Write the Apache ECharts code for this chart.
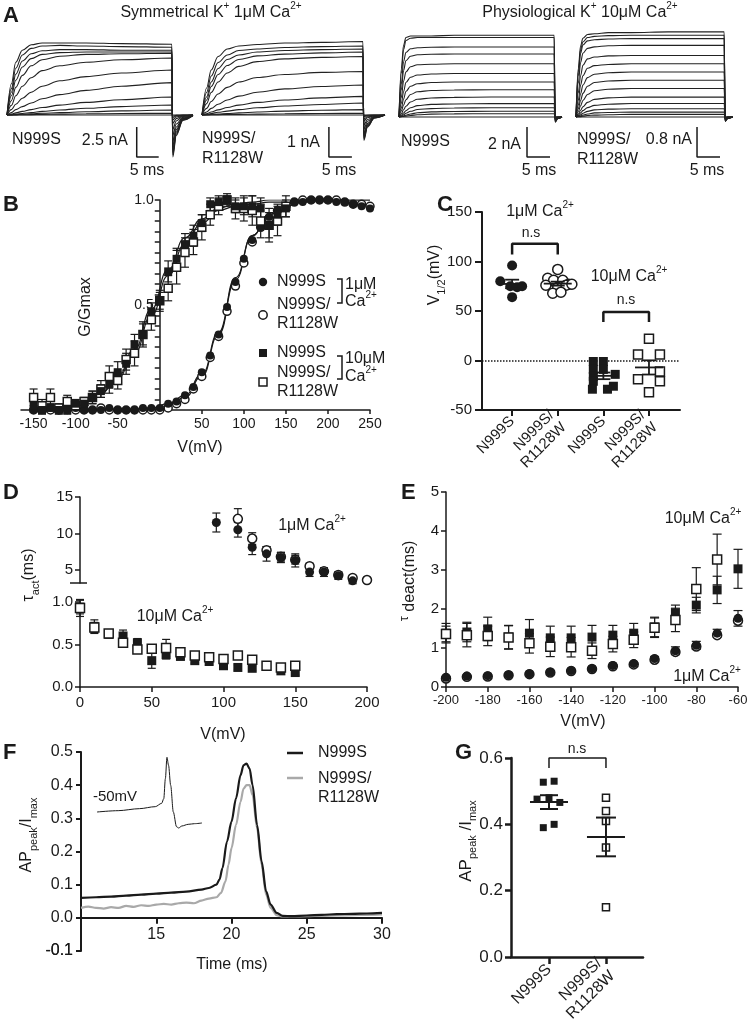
<!DOCTYPE html>
<html><head><meta charset="utf-8">
<script src="https://cdn.jsdelivr.net/npm/echarts@6/dist/echarts.min.js"></script>
<style>html,body{margin:0;padding:0;background:#fff}#c{width:748px;height:1031px}</style>
</head><body><div id="c"></div>
<script>
// ================= DATA =================
// Panel A: current traces (time in ms, current in nA)
const aT1 = [0,1,2,3.5,5.5,8,12,18,26,37.5,37.7,38.5,40,42.3];
const aTr1 = [
[0,2.6,4.4,5.4,5.85,6.0,6.0,6.0,5.95,5.9,-3.5,-1.7,-0.45,-0.05],
[0,2.2,3.9,5.0,5.55,5.75,5.8,5.75,5.7,5.65,-3.3,-1.6,-0.4,-0.05],
[0,1.9,3.4,4.5,5.1,5.35,5.45,5.45,5.4,5.4,-3.1,-1.5,-0.4,-0.05],
[0,1.6,2.9,4.0,4.7,5.05,5.2,5.25,5.25,5.25,-2.9,-1.35,-0.35,-0.05],
[0,1.2,2.3,3.3,4.1,4.6,4.9,5.05,5.1,5.15,-2.6,-1.2,-0.3,-0.04],
[0,0.8,1.6,2.4,3.1,3.7,4.1,4.4,4.6,4.75,-2.2,-1.0,-0.25,-0.03],
[0,0.45,0.9,1.4,1.9,2.4,2.85,3.2,3.5,3.75,-1.7,-0.75,-0.2,-0.02],
[0,0.2,0.45,0.7,1.0,1.35,1.7,2.05,2.4,2.7,-1.2,-0.5,-0.12,-0.02],
[0,0.08,0.18,0.3,0.45,0.62,0.82,1.05,1.27,1.5,-0.7,-0.3,-0.08,-0.01],
[0,0.03,0.07,0.13,0.2,0.3,0.42,0.56,0.7,0.83,-0.4,-0.17,-0.05,0],
[0,0.01,0.03,0.06,0.1,0.14,0.2,0.27,0.34,0.42,-0.2,-0.08,-0.02,0],
[0,0,0.01,0.02,0.03,0.05,0.07,0.1,0.12,0.15,-0.08,-0.03,-0.01,0],
[0,0,0,0,0,0,0,0,0,0,0,0,0,0]];
const aT2 = [0,1,2,3.5,5.5,8,12,18,26,35,35.2,36,37.5,39.8];
const aTr2 = [
[0,0.9,1.5,1.95,2.2,2.3,2.35,2.4,2.42,2.45,-0.85,-0.4,-0.1,0],
[0,0.75,1.3,1.75,2.0,2.15,2.2,2.25,2.28,2.3,-0.8,-0.37,-0.1,0],
[0,0.6,1.1,1.55,1.85,2.0,2.1,2.15,2.18,2.2,-0.75,-0.35,-0.09,0],
[0,0.5,0.95,1.35,1.65,1.85,1.97,2.03,2.07,2.1,-0.7,-0.32,-0.08,0],
[0,0.38,0.75,1.1,1.4,1.62,1.78,1.87,1.92,1.95,-0.62,-0.28,-0.07,0],
[0,0.22,0.45,0.7,0.92,1.1,1.25,1.35,1.42,1.45,-0.47,-0.21,-0.05,0],
[0,0.1,0.22,0.36,0.5,0.63,0.76,0.87,0.95,1.0,-0.33,-0.15,-0.04,0],
[0,0.04,0.1,0.17,0.25,0.33,0.42,0.5,0.57,0.62,-0.2,-0.09,-0.02,0],
[0,0.02,0.05,0.09,0.13,0.18,0.24,0.3,0.35,0.4,-0.13,-0.06,-0.02,0],
[0,0.01,0.02,0.03,0.05,0.07,0.1,0.13,0.16,0.18,-0.06,-0.03,-0.01,0],
[0,0,0.01,0.01,0.02,0.02,0.03,0.04,0.05,0.06,-0.02,-0.01,0,0],
[0,0,0,0,0,0,0,0,0,0,0,0,0,0]];
const aT3 = [0,0.5,1,1.5,2.5,4,7,12,20,33.7,33.9,34.5,35.4];
const aTr3 = [
[0,3.2,4.8,5.3,5.4,5.4,5.4,5.45,5.45,5.45,-0.35,-0.1,0],
[0,2.9,4.5,5.1,5.25,5.3,5.3,5.3,5.3,5.3,-0.33,-0.1,0],
[0,2.2,3.7,4.3,4.55,4.62,4.65,4.67,4.67,4.67,-0.3,-0.09,0],
[0,1.8,3.1,3.75,4.05,4.15,4.18,4.2,4.2,4.2,-0.27,-0.08,0],
[0,1.3,2.4,3.0,3.35,3.48,3.52,3.55,3.55,3.55,-0.23,-0.07,0],
[0,0.9,1.7,2.3,2.65,2.8,2.87,2.9,2.9,2.9,-0.19,-0.06,0],
[0,0.6,1.2,1.7,2.05,2.22,2.3,2.33,2.33,2.33,-0.15,-0.05,0],
[0,0.4,0.8,1.15,1.5,1.68,1.77,1.8,1.82,1.82,-0.12,-0.04,0],
[0,0.22,0.48,0.72,1.0,1.18,1.27,1.31,1.33,1.33,-0.09,-0.03,0],
[0,0.12,0.27,0.42,0.62,0.76,0.84,0.87,0.89,0.89,-0.06,-0.02,0],
[0,0.07,0.15,0.25,0.38,0.5,0.56,0.6,0.62,0.62,-0.04,-0.01,0],
[0,0.03,0.07,0.12,0.2,0.28,0.34,0.37,0.38,0.38,-0.03,-0.01,0],
[0,0.02,0.04,0.06,0.1,0.15,0.19,0.21,0.22,0.22,-0.02,0,0],
[0,0,0,0,0,0,0,0,0,0,0,0,0]];
const aT4 = [0,0.5,1,1.5,2.5,4,7,12,20,32.2,32.4,33,34];
const aTr4 = [
[0,1.3,1.9,2.1,2.2,2.22,2.25,2.25,2.27,2.27,-0.12,-0.04,0],
[0,1.2,1.8,2.0,2.12,2.15,2.17,2.18,2.18,2.18,-0.11,-0.04,0],
[0,1.1,1.7,1.92,2.03,2.06,2.08,2.09,2.09,2.09,-0.1,-0.03,0],
[0,0.9,1.45,1.7,1.83,1.87,1.9,1.91,1.91,1.91,-0.1,-0.03,0],
[0,0.65,1.1,1.38,1.55,1.6,1.63,1.64,1.64,1.64,-0.09,-0.03,0],
[0,0.45,0.85,1.1,1.3,1.37,1.4,1.42,1.42,1.42,-0.08,-0.02,0],
[0,0.32,0.62,0.85,1.05,1.14,1.18,1.2,1.2,1.2,-0.07,-0.02,0],
[0,0.22,0.44,0.63,0.82,0.92,0.96,0.98,0.98,0.98,-0.06,-0.02,0],
[0,0.14,0.3,0.44,0.6,0.7,0.74,0.76,0.76,0.76,-0.05,-0.01,0],
[0,0.08,0.18,0.27,0.39,0.47,0.51,0.53,0.53,0.53,-0.04,-0.01,0],
[0,0.05,0.11,0.17,0.25,0.31,0.34,0.36,0.36,0.36,-0.03,-0.01,0],
[0,0.03,0.06,0.1,0.15,0.19,0.21,0.22,0.22,0.22,-0.02,0,0],
[0,0.02,0.03,0.05,0.08,0.11,0.12,0.13,0.13,0.13,-0.01,0,0],
[0,0.01,0.01,0.02,0.04,0.05,0.06,0.07,0.07,0.07,-0.01,0,0],
[0,0,0,0,0,0,0,0,0,0,0,0,0]];
// scale bars: [time, current, 5 ms, nA]
const aScale1 = [29.5,-3.5,5,2.5];
const aScale2 = [27.6,-1.4,5,1];
const aScale3 = [27.8,-2.67,5,2];
const aScale4 = [26.3,-1.07,5,0.8];

// Panel B: G/Gmax vs V
const bV1 = [-150,-140,-130,-120,-110,-100,-90,-80,-70,-60,-50,-40,-30,-20,-10,0,10,20,30,40,50,60,70,80,90,100,110,120,130,140,150,160,170,180,190,200,210,220,230,240,250];
const bG1N = [0,0,0.01,0,0,0.01,0,0,0,0.01,0,0,0,0.01,0.01,0.01,0.03,0.04,0.07,0.11,0.18,0.26,0.36,0.49,0.61,0.72,0.81,0.87,0.92,0.95,0.97,0.99,0.99,1.0,1.0,1.0,0.99,0.99,0.98,0.97,0.96];
const bG1R = [0,0.01,0,0,0.01,0,0,0,0.01,0,0,0,0,0,0,0,0.01,0.03,0.05,0.10,0.16,0.25,0.35,0.47,0.59,0.70,0.80,0.87,0.91,0.95,0.97,0.99,1.0,1.0,1.0,1.0,1.0,0.99,0.98,0.98,0.97];
const bV10 = [-150,-140,-130,-120,-110,-100,-90,-80,-70,-60,-50,-40,-30,-20,-10,0,10,20,30,40,50,60,70,80,90,100,110,120,130,140,150];
const bG10N = [0.02,0.0,0.01,0.0,0.0,0.03,0.03,0.06,0.09,0.12,0.18,0.22,0.31,0.36,0.47,0.52,0.66,0.72,0.79,0.83,0.89,0.98,0.99,1.0,0.97,0.97,0.97,0.96,0.88,0.93,0.96];
const bE10N = [0.03,0.02,0.02,0.02,0.02,0.02,0.02,0.03,0.03,0.04,0.05,0.05,0.05,0.05,0.04,0.04,0.05,0.05,0.05,0.05,0.04,0.03,0.03,0.02,0.03,0.04,0.05,0.05,0.06,0.05,0.04];
const bG10R = [0.06,0.02,0.06,0.01,0.04,0.02,0.04,0.06,0.10,0.16,0.14,0.24,0.27,0.36,0.43,0.52,0.58,0.68,0.75,0.80,0.87,0.93,0.97,1.0,0.96,0.96,0.95,0.90,0.88,0.90,0.97];
const bE10R = [0.04,0.03,0.04,0.02,0.03,0.02,0.02,0.03,0.04,0.05,0.04,0.05,0.06,0.06,0.05,0.05,0.06,0.08,0.07,0.06,0.06,0.05,0.04,0.03,0.05,0.06,0.07,0.08,0.08,0.07,0.05];
const bFitV1 = [-150,-130,-110,-90,-70,-50,-30,-10,10,30,50,70,90,110,130,150,170,190,210,230,250];
const bFit1N = [0,0,0,0,0,0,0,0.01,0.03,0.07,0.17,0.37,0.63,0.83,0.93,0.97,0.99,1.0,1.0,1.0,1.0];
const bFit1R = [0,0,0,0,0,0,0,0.01,0.02,0.06,0.16,0.36,0.62,0.83,0.93,0.97,0.99,1.0,1.0,1.0,1.0];
const bFitV10 = [-150,-130,-110,-90,-70,-50,-30,-10,10,30,50,70,90,110,130,150];
const bFit10N = [0.0,0.01,0.02,0.04,0.08,0.16,0.29,0.48,0.67,0.82,0.91,0.96,0.98,0.99,1.0,1.0];
const bFit10R = [0.01,0.01,0.02,0.04,0.08,0.15,0.27,0.45,0.64,0.79,0.89,0.95,0.97,0.98,0.99,0.99];
const bXTicks = [-150,-100,-50,50,100,150,200,250];
const bYTicks = [0.05,0.1,0.15,0.2,0.25,0.3,0.35,0.4,0.45,0.5,0.55,0.6,0.65,0.7,0.75,0.8,0.85,0.9,0.95,1.0];
const bYLabels = [0.5,1.0];

// Panel C: V1/2 (mV)
const cLabels = ['N999S','N999S/\nR1128W','N999S','N999S/\nR1128W'];
const cN1 = [96,80,75,74,75,64];           const cN1j = [0,-0.26,-0.04,0.11,0.22,0];
const cR1 = [92,83,81,81,77,76,74,76,68,69,77]; const cR1j = [0,-0.22,-0.09,0.11,0.24,-0.26,0,0.18,-0.11,0.07,0.31];
const cN10 = [-1,-1,-9,-9,-16,-14,-21,-26,-29,-29]; const cN10j = [-0.22,0,-0.22,0,-0.22,0.26,-0.22,0.22,-0.24,0.09];
const cR10 = [22,6,6,-11,-19,-21,-32];       const cR10j = [0,-0.24,0.24,0.24,-0.24,0.24,0];

// Panel D: tau act
const dV1N = [95,110,120,130,140,150,160,170,180,190];
const dT1N = [11.5,10.5,8.1,7.2,6.7,6.3,4.7,4.7,4.2,3.5];
const dE1N = [1.3,1.0,1.0,1.0,0.7,0.9,0.6,0.6,0.5,0.4];
const dV1R = [110,120,130,140,150,160,170,180,190,200];
const dT1R = [12.0,9.3,7.7,6.8,6.4,5.5,4.8,4.3,3.9,3.6];
const dE1R = [1.4,0.8,0.5,0.6,0.6,0.4,0.4,0.4,0.3,0.2];
const dV10 = [0,10,20,30,40,50,60,70,80,90,100,110,120,130,140,150];
const dT10N = [0.94,0.71,0.62,0.60,0.52,0.31,0.38,0.36,0.31,0.30,0.25,0.23,0.22,0.25,0.19,0.17];
const dE10N = [0.08,0.08,0.04,0.07,0.05,0.09,0.05,0.04,0.03,0.03,0.03,0.03,0.03,0.03,0.03,0.03];
const dT10R = [0.93,0.70,0.63,0.52,0.44,0.45,0.46,0.41,0.37,0.35,0.33,0.37,0.32,0.25,0.23,0.25];
const dE10R = [0.10,0.06,0.03,0.03,0.04,0.04,0.10,0.04,0.03,0.03,0.03,0.04,0.03,0.03,0.03,0.03];
const dUpperTicks = [5,10,15];

// Panel E: tau deact
const eV = [-200,-190,-180,-170,-160,-150,-140,-130,-120,-110,-100,-90,-80,-70,-60];
const eSqN = [1.38,1.41,1.49,1.28,1.38,1.26,1.26,1.28,1.33,1.38,1.54,1.90,2.10,2.49,3.03];
const eSqNe = [0.25,0.25,0.3,0.3,0.35,0.3,0.3,0.3,0.25,0.25,0.25,0.2,0.2,0.35,0.5];
const eVR = [-200,-190,-180,-170,-160,-150,-140,-130,-120,-110,-100,-90,-80,-70];
const eSqR = [1.36,1.33,1.31,1.27,1.12,1.03,1.02,0.93,1.10,1.21,1.52,1.72,2.51,3.27];
const eSqRe = [0.2,0.3,0.25,0.3,0.25,0.25,0.25,0.2,0.2,0.2,0.25,0.3,0.55,0.65];
const eCiN = [0.25,0.28,0.29,0.31,0.34,0.38,0.42,0.47,0.55,0.60,0.73,0.93,1.07,1.38,1.76];
const eCiNe = [0.02,0.02,0.02,0.02,0.02,0.02,0.02,0.02,0.02,0.02,0.05,0.1,0.1,0.1,0.2];
const eCiR = [0.22,0.26,0.27,0.30,0.33,0.37,0.41,0.46,0.53,0.58,0.70,0.90,1.04,1.33,1.70];

// Panel F: AP clamp traces
const fTN = [10,11,12,13,14,15,16,17,18,18.5,19.0,19.2,19.4,19.7,20.0,20.3,20.6,20.8,21.0,21.2,21.4,21.7,22.0,22.3,22.6,23.0,23.4,24,25,26,27,28,29,30];
const fVN = [0.060,0.062,0.064,0.067,0.070,0.073,0.076,0.079,0.085,0.090,0.100,0.115,0.15,0.23,0.29,0.36,0.43,0.46,0.465,0.45,0.40,0.28,0.17,0.08,0.04,0.015,0.006,0.005,0.007,0.009,0.011,0.012,0.013,0.015];
const fTR = [10,10.5,11,11.5,12,12.5,13,13.5,14,14.5,15,15.5,16,16.5,17,17.5,18,18.5,19,19.3,19.6,19.8,20.0,20.3,20.6,20.8,21.0,21.2,21.4,21.7,22.0,22.3,22.6,23.0,23.4,24,25,26,27,28,29,30];
const fVR = [0.030,0.034,0.030,0.028,0.032,0.030,0.036,0.033,0.038,0.036,0.040,0.042,0.040,0.044,0.046,0.044,0.052,0.058,0.062,0.075,0.11,0.16,0.21,0.28,0.35,0.39,0.40,0.40,0.37,0.27,0.16,0.07,0.03,0.008,0.004,0.004,0.005,0.006,0.007,0.008,0.009,0.010];
const fInsetT = [0,2,4,5.5,6.1,6.3,6.45,6.6,6.75,6.95,7.2,7.5,7.7,8.0,8.6,9.2,9.9];
const fInsetV = [-50,-48,-45,-42,-37,-30,0,32,20,-10,-50,-72,-74,-71,-68.5,-67.5,-66.5];
const fXTicks = [15,20,25,30];
const fBottomLabel = '-0.1';

// Panel G
const gLabels = ['N999S','N999S/\nR1128W'];
const gN = [0.527,0.53,0.476,0.48,0.466,0.39,0.40]; const gNj = [-0.1,0.09,-0.21,0,0.19,-0.1,0.09];
const gR = [0.48,0.44,0.41,0.33,0.15];              const gRj = [0,0,0,0,0];

// ================= BUILD =================
const FONT = "'Liberation Sans', Arial, Helvetica, sans-serif";
const INK = '#1a1a1a';
const CLEAR = 'rgba(0,0,0,0)';
const grids = [], xAxis = [], yAxis = [], series = [], graphic = [];
function merge(a, b) {
  const o = Object.assign({}, a);
  for (const k in b) {
    const v = b[k];
    if (v && typeof v === 'object' && !Array.isArray(v) && o[k] && typeof o[k] === 'object' && !Array.isArray(o[k])) o[k] = merge(o[k], v);
    else o[k] = v;
  }
  return o;
}
function panel(g, xa, ya) {
  const i = grids.length;
  grids.push(Object.assign({containLabel: false, outerBoundsMode: 'none'}, g));
  xAxis.push(Object.assign({gridIndex: i}, xa));
  yAxis.push(Object.assign({gridIndex: i}, ya));
  return i;
}
const hidden = (min, max) => ({type: 'value', show: false, min, max, splitLine: {show: false}, axisLine: {show: false, onZero: false}});
function ax(w, fs, extra) {
  return merge({type: 'value', axisLine: {show: true, onZero: false, lineStyle: {color: INK, width: w}},
    axisTick: {show: true, length: 5, lineStyle: {color: INK, width: w}},
    axisLabel: {show: true, color: INK, fontFamily: FONT, fontSize: fs, margin: 7},
    splitLine: {show: false}}, extra || {});
}
const pts = (xs, ys) => xs.map((x, k) => [x, ys[k]]);
function curve(gi, xs, ys, color, width, smooth) {
  return {type: 'line', xAxisIndex: gi, yAxisIndex: gi, data: pts(xs, ys), symbol: 'none', showSymbol: false,
    lineStyle: {color, width}, smooth: smooth || false, smoothMonotone: 'x', silent: true, z: 2};
}
function dots(gi, xs, ys, symbol, size, filled, z) {
  return {type: 'scatter', xAxisIndex: gi, yAxisIndex: gi, symbol, symbolSize: size, data: pts(xs, ys), silent: true, z: z || 3,
    itemStyle: filled ? {color: INK, opacity: 1} : {color: '#fff', borderColor: INK, borderWidth: 1.5, opacity: 1}};
}
function errBars(gi, xs, ys, es, cap, w) {
  return {type: 'custom', xAxisIndex: gi, yAxisIndex: gi, silent: true, z: 2, clip: false,
    data: xs.map((x, k) => [x, ys[k] - es[k], ys[k] + es[k]]), encode: {x: 0, y: [1, 2]},
    renderItem: (p, api) => {
      const x = api.value(0), a = api.coord([x, api.value(1)]), b = api.coord([x, api.value(2)]);
      const st = {stroke: INK, lineWidth: w || 1.2};
      return {type: 'group', children: [
        {type: 'line', shape: {x1: a[0], y1: a[1], x2: b[0], y2: b[1]}, style: st},
        {type: 'line', shape: {x1: a[0] - cap, y1: a[1], x2: a[0] + cap, y2: a[1]}, style: st},
        {type: 'line', shape: {x1: b[0] - cap, y1: b[1], x2: b[0] + cap, y2: b[1]}, style: st}]};
    }};
}
function meanSem(gi, pos, vals, hm, hs, w) {
  const n = vals.length, m = vals.reduce((a, b) => a + b, 0) / n;
  const se = Math.sqrt(vals.reduce((a, b) => a + (b - m) * (b - m), 0) / (n - 1)) / Math.sqrt(n);
  return {type: 'custom', xAxisIndex: gi, yAxisIndex: gi, silent: true, z: 5, clip: false,
    data: [[pos, m, m - se, m + se]], encode: {x: 0, y: 1},
    renderItem: (p, api) => {
      const x = api.value(0), c = api.coord([x, api.value(1)]), lo = api.coord([x, api.value(2)]), hi = api.coord([x, api.value(3)]);
      const st = {stroke: INK, lineWidth: w};
      return {type: 'group', children: [
        {type: 'line', shape: {x1: c[0] - hm, y1: c[1], x2: c[0] + hm, y2: c[1]}, style: st},
        {type: 'line', shape: {x1: lo[0], y1: lo[1], x2: hi[0], y2: hi[1]}, style: st},
        {type: 'line', shape: {x1: lo[0] - hs, y1: lo[1], x2: lo[0] + hs, y2: lo[1]}, style: st},
        {type: 'line', shape: {x1: hi[0] - hs, y1: hi[1], x2: hi[0] + hs, y2: hi[1]}, style: st}]};
    }};
}
function bracket(gi, x0, x1, y, drop, w) {
  return {type: 'line', xAxisIndex: gi, yAxisIndex: gi, symbol: 'none', silent: true, clip: false, z: 4,
    data: [[x0, y - drop], [x0, y], [x1, y], [x1, y - drop]], lineStyle: {color: INK, width: w}};
}
function scaleBar(gi, s) {
  return {type: 'line', xAxisIndex: gi, yAxisIndex: gi, symbol: 'none', silent: true, clip: false, z: 4,
    data: [[s[0], s[1] + s[3]], [s[0], s[1]], [s[0] + s[2], s[1]]], lineStyle: {color: INK, width: 1.5}};
}
const RICH = {
  sup: {fontSize: 10, verticalAlign: 'top', fontFamily: FONT, fill: INK, lineHeight: 24},
  sub: {fontSize: 11, verticalAlign: 'bottom', fontFamily: FONT, fill: INK, lineHeight: 24},
  tau: {fontSize: 13, verticalAlign: 'top', fontFamily: FONT, fill: INK, lineHeight: 24}
};
function T(x, y, text, o) {
  o = o || {};
  graphic.push({type: 'text', x, y, rotation: o.rot || 0, silent: true, z: 100,
    style: {text, fill: INK, fontFamily: FONT, fontSize: o.fs || 16, fontWeight: o.fw || 'normal',
      align: o.al || 'left', verticalAlign: o.va || 'middle', lineHeight: o.lh || 20,
      rich: Object.fromEntries(Object.entries(RICH).map(([k, v]) => [k, Object.assign({}, v, o.lh ? {lineHeight: o.lh} : {})]))}});
}
function L(x1, y1, x2, y2, w, c) { graphic.push({type: 'line', silent: true, z: 100, shape: {x1, y1, x2, y2}, style: {stroke: c || INK, lineWidth: w || 1.5}}); }

// ---- Panel A ----
const aSpecs = [
  [{left: 7, top: 40, width: 186, height: 120}, [0, 42.3], [-3.75, 6.25], aT1, aTr1, aScale1],
  [{left: 202, top: 40, width: 183, height: 120}, [0, 39.8], [-1.5, 2.5], aT2, aTr2, aScale2],
  [{left: 399, top: 30, width: 163, height: 100}, [0, 35.4], [-0.867, 5.8], aT3, aTr3, aScale3],
  [{left: 576, top: 30, width: 156, height: 100}, [0, 33.9], [-0.347, 2.32], aT4, aTr4, aScale4]];
aSpecs.forEach(s => {
  const gi = panel(s[0], hidden(s[1][0], s[1][1]), hidden(s[2][0], s[2][1]));
  s[4].forEach(tr => { const c = curve(gi, s[3], tr, '#222', 1.1, 0.35); c.clip = false; series.push(c); });
  series.push(scaleBar(gi, s[5]));
});

// ---- Panel B ----
const bBox = {left: 21, top: 200, width: 349, height: 210}, bXmin = -165, bXmax = 250;
const gB = panel(bBox,
  ax(1.5, 14, {min: bXmin, max: bXmax, axisTick: {customValues: bXTicks, length: 4}, axisLabel: {customValues: bXTicks, margin: 7}}),
  hidden(0, 1));
// separate grid whose left edge sits at V = 0, carrying the visible G/Gmax axis
const bZeroX = bBox.left + bBox.width * (0 - bXmin) / (bXmax - bXmin);
panel({left: bZeroX, top: bBox.top, width: bBox.left + bBox.width - bZeroX, height: bBox.height}, hidden(0, bXmax),
  ax(1.5, 14, {min: 0, max: 1, axisTick: {customValues: bYTicks, length: 5}, axisLabel: {customValues: bYLabels, formatter: v => v.toFixed(1), margin: 6}}));
series.push(curve(gB, bFitV1, bFit1N, INK, 1.2, 0.5));
series.push(curve(gB, bFitV1, bFit1R, INK, 1.2, 0.5));
series.push(curve(gB, bFitV10, bFit10N, INK, 1.2, 0.5));
series.push(curve(gB, bFitV10, bFit10R, INK, 1.2, 0.5));
series.push(errBars(gB, bV10, bG10N, bE10N, 4));
series.push(errBars(gB, bV10, bG10R, bE10R, 4));
series.push(dots(gB, bV1, bG1R, 'circle', 8, false));
series.push(dots(gB, bV1, bG1N, 'circle', 8, true));
series.push(dots(gB, bV10, bG10R, 'rect', 8, false));
series.push(dots(gB, bV10, bG10N, 'rect', 8, true));

// ---- Panel C ----
const cX = [0, 1, 2, 3];
const gC = panel({left: 482, top: 212, width: 198, height: 198},
  ax(2, 15, {min: -0.66, max: 3.68, axisTick: {customValues: cX, length: 6}, axisLabel: {customValues: cX, formatter: v => cLabels[Math.round(v)], rotate: 45, margin: 9, lineHeight: 17}}),
  ax(2, 15, {min: -50, max: 150, interval: 50, axisTick: {length: 7}, axisLabel: {margin: 10}}));
series.push({type: 'line', xAxisIndex: gC, yAxisIndex: gC, data: [], silent: true,
  markLine: {silent: true, symbol: 'none', label: {show: false}, lineStyle: {type: 'dotted', color: INK, width: 1.5}, data: [{yAxis: 0}], animation: false}});
series.push(dots(gC, cN1j.map(j => 0 + j), cN1, 'circle', 10, true));
series.push(dots(gC, cR1j.map(j => 1 + j), cR1, 'circle', 10, false));
series.push(dots(gC, cN10j.map(j => 2 + j), cN10, 'rect', 9, true));
series.push(dots(gC, cR10j.map(j => 3 + j), cR10, 'rect', 9, false));
series.push(meanSem(gC, 0, cN1, 14, 7, 1.8));
series.push(meanSem(gC, 1, cR1, 14, 7, 1.8));
series.push(meanSem(gC, 2, cN10, 14, 7, 1.8));
series.push(meanSem(gC, 3, cR10, 14, 7, 1.8));
series.push(bracket(gC, 0, 1, 118, 11, 2.5));
series.push(bracket(gC, 2, 3, 49, 10, 2.5));

// ---- Panel D ----
const gDu = panel({left: 80, top: 497, width: 287, height: 86}, hidden(0, 200),
  ax(1.5, 15, {min: 3.2, max: 15, axisTick: {customValues: dUpperTicks, length: 5}, axisLabel: {customValues: dUpperTicks, margin: 7}}));
series.push(errBars(gDu, dV1N, dT1N, dE1N, 4));
series.push(errBars(gDu, dV1R, dT1R, dE1R, 4));
series.push(dots(gDu, dV1R, dT1R, 'circle', 9, false));
series.push(dots(gDu, dV1N, dT1N, 'circle', 9, true));
const gDl = panel({left: 80, top: 602, width: 287, height: 85},
  ax(1.5, 15, {min: 0, max: 200, interval: 50, axisTick: {length: 5}, axisLabel: {margin: 8}}),
  ax(1.5, 15, {min: 0, max: 1, interval: 0.5, axisTick: {length: 5}, axisLabel: {formatter: v => v.toFixed(1), margin: 7}}));
series.push(errBars(gDl, dV10, dT10N, dE10N, 4));
series.push(errBars(gDl, dV10, dT10R, dE10R, 4));
series.push(dots(gDl, dV10, dT10N, 'rect', 9, true));
series.push(dots(gDl, dV10, dT10R, 'rect', 9, false));

// ---- Panel E ----
const gE = panel({left: 446, top: 492, width: 292, height: 195},
  ax(1.5, 13, {min: -200, max: -60, interval: 20, axisTick: {length: 5}, axisLabel: {margin: 7}}),
  ax(1.5, 15, {min: 0, max: 5, interval: 1, axisTick: {length: 5}, axisLabel: {margin: 7}}));
series.push(errBars(gE, eV, eSqN, eSqNe, 4.5));
series.push(errBars(gE, eVR, eSqR, eSqRe, 4.5));
series.push(errBars(gE, eV, eCiN, eCiNe, 4.5));
series.push(dots(gE, eV, eCiR, 'circle', 9, false));
series.push(dots(gE, eV, eCiN, 'circle', 9, true));
series.push(dots(gE, eV, eSqN, 'rect', 9, true));
series.push(dots(gE, eVR, eSqR, 'rect', 9, false));

// ---- Panel F ----
const fBox = {left: 81, top: 752, width: 301, height: 199};
const gF = panel(fBox,
  ax(2, 16, {min: 10, max: 30, axisLine: {onZero: true, lineStyle: {color: CLEAR}}, axisTick: {show: false}, axisLabel: {customValues: fXTicks, color: CLEAR}}),
  ax(2, 16, {min: -0.1, max: 0.5, interval: 0.1, axisTick: {length: 5}, axisLabel: {formatter: v => v.toFixed(1), margin: 8}}));
panel({left: fBox.left, top: fBox.top, width: fBox.width, height: fBox.height * 0.5 / 0.6},
  ax(2, 16, {min: 10, max: 30, axisTick: {customValues: fXTicks, length: 6}, axisLabel: {customValues: fXTicks, margin: 9}}),
  hidden(0, 0.5));
series.push(curve(gF, fTR, fVR, '#a9a9a9', 2.2, 0.3));
series.push(curve(gF, fTN, fVN, INK, 2.2, 0.3));
const gFi = panel({left: 97, top: 752, width: 106, height: 80}, hidden(0, 10), hidden(-80, 40));
series.push(curve(gFi, fInsetT, fInsetV, INK, 1, 0.3));

// ---- Panel G ----
const gX = [0, 1];
const gG = panel({left: 511, top: 758, width: 132, height: 199},
  ax(2.5, 16, {min: -0.667, max: 1.65, axisTick: {customValues: gX, length: 7}, axisLabel: {customValues: gX, formatter: v => gLabels[Math.round(v)], rotate: 45, margin: 10, lineHeight: 18}}),
  ax(2.5, 17, {min: 0, max: 0.6, interval: 0.2, axisTick: {length: 6}, axisLabel: {formatter: v => v.toFixed(1), margin: 8}}));
series.push(dots(gG, gNj.map(j => 0 + j), gN, 'rect', 7, true));
series.push(dots(gG, gRj.map(j => 1 + j), gR, 'rect', 7, false));
series.push(meanSem(gG, 0, gN, 19, 9, 2));
series.push(meanSem(gG, 1, gR, 19, 10, 2));
series.push(bracket(gG, 0, 1, 0.6, 0.03, 1.5));

// ================= TEXT / ANNOTATIONS =================
[['A', 3, 16], ['B', 3, 205], ['C', 437, 205], ['D', 3, 493], ['E', 401, 493], ['F', 3, 753], ['G', 455, 753]]
  .forEach(l => T(l[1], l[2], l[0], {fs: 22, fw: 'bold'}));
// Panel A
T(211, 13, 'Symmetrical K{sup|+} 1μM Ca{sup|2+}', {al: 'center', lh: 24});
T(580, 13, 'Physiological K{sup|+} 10μM Ca{sup|2+}', {al: 'center', lh: 24});
T(12, 140, 'N999S');
T(128, 141, '2.5 nA', {al: 'right'});
T(147, 171, '5 ms', {al: 'center'});
T(202, 149, 'N999S/\nR1128W', {lh: 20});
T(320, 143, '1 nA', {al: 'right'});
T(339, 171, '5 ms', {al: 'center'});
T(401, 142, 'N999S');
T(521, 145, '2 nA', {al: 'right'});
T(539, 171, '5 ms', {al: 'center'});
T(577, 150, 'N999S/\nR1128W', {lh: 20});
T(692, 140, '0.8 nA', {al: 'right'});
T(707, 171, '5 ms', {al: 'center'});
// Panel B
T(86, 307, 'G/Gmax', {al: 'center', rot: Math.PI / 2});
T(200, 448, 'V(mV)', {al: 'center'});
graphic.push({type: 'circle', silent: true, z: 100, shape: {cx: 263, cy: 282, r: 4.2}, style: {fill: INK}});
graphic.push({type: 'circle', silent: true, z: 100, shape: {cx: 263, cy: 315, r: 4.2}, style: {fill: '#fff', stroke: INK, lineWidth: 1.5}});
graphic.push({type: 'rect', silent: true, z: 100, shape: {x: 259, y: 349, width: 8, height: 8}, style: {fill: INK}});
graphic.push({type: 'rect', silent: true, z: 100, shape: {x: 259, y: 378, width: 8, height: 8}, style: {fill: '#fff', stroke: INK, lineWidth: 1.5}});
T(277, 282, 'N999S');
T(277, 314, 'N999S/\nR1128W', {lh: 19});
T(277, 353, 'N999S');
T(277, 382, 'N999S/\nR1128W', {lh: 19});
graphic.push({type: 'polyline', silent: true, z: 100, shape: {points: [[337, 279], [342, 279], [342, 303], [337, 303]]}, style: {stroke: INK, lineWidth: 1.5, fill: null}});
graphic.push({type: 'polyline', silent: true, z: 100, shape: {points: [[337, 356], [342, 356], [342, 379], [337, 379]]}, style: {stroke: INK, lineWidth: 1.5, fill: null}});
T(345, 285, '1μM');
T(345, 302, 'Ca{sup|2+}', {lh: 24});
T(345, 359, '10μM');
T(345, 377, 'Ca{sup|2+}', {lh: 24});
// Panel C
T(435, 275, 'V{sub|1/2}(mV)', {al: 'center', rot: Math.PI / 2, lh: 24});
T(540, 212, '1μM Ca{sup|2+}', {al: 'center', lh: 24});
T(531, 233, 'n.s', {al: 'center', fs: 14});
T(629, 277, '10μM Ca{sup|2+}', {al: 'center', lh: 24});
T(626, 300, 'n.s', {al: 'center', fs: 14});
// Panel D
L(70, 583, 87, 583, 1.5);
T(29, 575, 'τ{sub|act}(ms)', {al: 'center', rot: Math.PI / 2, lh: 24});
T(312, 526, '1μM Ca{sup|2+}', {al: 'center', lh: 24});
T(175, 617, '10μM Ca{sup|2+}', {al: 'center', lh: 24});
T(223, 735, 'V(mV)', {al: 'center'});
// Panel E
T(410, 581, '{tau|τ} deact(ms)', {al: 'center', rot: Math.PI / 2, lh: 24});
T(703, 519, '10μM Ca{sup|2+}', {al: 'center', lh: 24});
T(707, 677, '1μM Ca{sup|2+}', {al: 'center', lh: 24});
T(583, 722, 'V(mV)', {al: 'center'});
// Panel F
T(27, 835, 'AP{sub|peak}/I{sub|max}', {al: 'center', rot: Math.PI / 2, lh: 24});
T(232, 965, 'Time (ms)', {al: 'center'});
T(115, 797, '-50mV', {al: 'center', fs: 15});
T(fBox.left - 8, fBox.top + fBox.height, fBottomLabel, {al: 'right', fs: 16});
L(287, 753, 303, 753, 2.5, INK);
L(287, 778, 303, 778, 2.5, '#a9a9a9');
T(318, 753, 'N999S');
T(318, 788, 'N999S/\nR1128W', {lh: 19});
// Panel G
T(466, 841, 'AP{sub|peak} /I{sub|max}', {al: 'center', rot: Math.PI / 2, fs: 17, lh: 24});
T(577, 749, 'n.s', {al: 'center', fs: 14});

const chart = echarts.init(document.getElementById('c'), null, {renderer: 'canvas', width: 748, height: 1031});
chart.setOption({
  backgroundColor: '#fff', animation: false,
  textStyle: {fontFamily: FONT},
  grid: grids, xAxis, yAxis, series, graphic
});
</script></body></html>
